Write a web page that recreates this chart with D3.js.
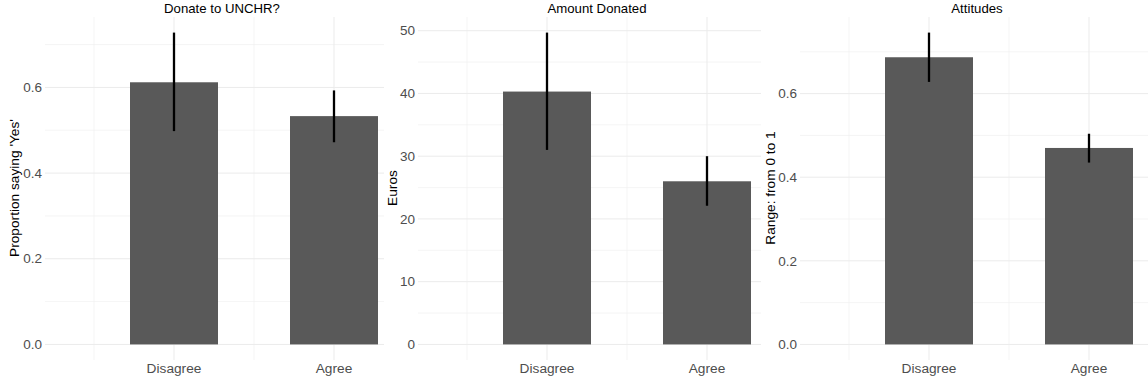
<html>
<head>
<script src="https://cdn.jsdelivr.net/npm/d3@7"></script>
<style>
  body { margin: 0; background: white; }
  text { font-family: "Liberation Sans", Arial, sans-serif; }
</style>
</head>
<body>
<svg width="1148" height="383"></svg>
<script>
// data
const categories = ["Disagree", "Agree"]

const panelTitles = ["Donate to UNCHR?", "Amount Donated", "Attitudes"]
const yTitles = ["Proportion saying 'Yes'", "Euros", "Range: from 0 to 1"]

const donateMean = [0.612, 0.533]
const donateLow = [0.498, 0.472]
const donateHigh = [0.728, 0.593]

const amountMean = [40.3, 26.0]
const amountLow = [31.0, 22.1]
const amountHigh = [49.7, 30.0]

const attitudeMean = [0.687, 0.470]
const attitudeLow = [0.628, 0.435]
const attitudeHigh = [0.746, 0.504]

const donateTicks = [0, 0.2, 0.4, 0.6]
const amountTicks = [0, 10, 20, 30, 40, 50]
const attitudeTicks = [0, 0.2, 0.4, 0.6]

const panels = [
  {mean: donateMean, low: donateLow, high: donateHigh, ticks: donateTicks, fmt: d3.format(".1f")},
  {mean: amountMean, low: amountLow, high: amountHigh, ticks: amountTicks, fmt: d3.format("d")},
  {mean: attitudeMean, low: attitudeLow, high: attitudeHigh, ticks: attitudeTicks, fmt: d3.format(".1f")}
]

// layout of the three glued plots
const slotLeft = [0, 380, 760]
const slotRight = [384, 761, 1148]
const panelLeft = [45, 418, 800]
const yTitleX = [19, 397, 775]
const titleX = [222, 597, 977]
const panelTop = 17, panelBottom = 360

const svg = d3.select("svg")
const defs = svg.append("defs")

panels.forEach(function(p, i) {
  defs.append("clipPath").attr("id", "clip" + i)
    .append("rect").attr("x", slotLeft[i]).attr("y", 0)
    .attr("width", slotRight[i] - slotLeft[i]).attr("height", 383)

  const g = svg.append("g").attr("clip-path", `url(#clip${i})`)
  const L = panelLeft[i]

  const ymax = d3.max(p.high)
  const y = d3.scaleLinear().domain([-0.05 * ymax, 1.05 * ymax]).range([panelBottom, panelTop])
  const x = d3.scalePoint().domain(categories).range([L + 129, L + 289])
  const step = x.step()
  const barW = step * 0.55

  // minor grid
  const minorY = p.ticks.map(t => t + (p.ticks[1] - p.ticks[0]) / 2)
  g.selectAll(".minor-y").data(minorY).join("line")
    .attr("x1", L).attr("x2", slotRight[i])
    .attr("y1", d => y(d)).attr("y2", d => y(d))
    .attr("stroke", "#f0f0f0").attr("stroke-width", 0.7)
  g.selectAll(".minor-x").data([-0.5, 0.5, 1.5]).join("line")
    .attr("x1", d => x(categories[0]) + d * step).attr("x2", d => x(categories[0]) + d * step)
    .attr("y1", panelTop).attr("y2", panelBottom)
    .attr("stroke", "#f0f0f0").attr("stroke-width", 0.7)

  // major grid
  g.selectAll(".major-y").data(p.ticks).join("line")
    .attr("x1", L).attr("x2", slotRight[i])
    .attr("y1", d => y(d)).attr("y2", d => y(d))
    .attr("stroke", "#ebebeb").attr("stroke-width", 1)
  g.selectAll(".major-x").data(categories).join("line")
    .attr("x1", d => x(d)).attr("x2", d => x(d))
    .attr("y1", panelTop).attr("y2", panelBottom)
    .attr("stroke", "#ebebeb").attr("stroke-width", 1)

  // bars
  g.selectAll(".bar").data(categories).join("rect")
    .attr("x", d => x(d) - barW / 2).attr("width", barW)
    .attr("y", (d, j) => y(p.mean[j])).attr("height", (d, j) => y(0) - y(p.mean[j]))
    .attr("fill", "#595959")

  // error bars
  g.selectAll(".err").data(categories).join("line")
    .attr("x1", d => x(d)).attr("x2", d => x(d))
    .attr("y1", (d, j) => y(p.low[j])).attr("y2", (d, j) => y(p.high[j]))
    .attr("stroke", "black").attr("stroke-width", 2.3)

  // y tick labels
  g.selectAll(".ytick").data(p.ticks).join("text")
    .attr("x", L - 3).attr("y", d => y(d)).attr("dy", "0.35em")
    .attr("text-anchor", "end").attr("font-size", 13.5).attr("fill", "#4d4d4d")
    .text(p.fmt)

  // x tick labels
  g.selectAll(".xtick").data(categories).join("text")
    .attr("x", d => x(d)).attr("y", 373)
    .attr("text-anchor", "middle").attr("font-size", 13.7).attr("fill", "#4d4d4d")
    .text(d => d)

  // y axis title
  g.append("text")
    .attr("transform", `translate(${yTitleX[i]},188) rotate(-90)`)
    .attr("text-anchor", "middle").attr("font-size", 13.7).attr("fill", "black")
    .text(yTitles[i])

  // plot title
  g.append("text")
    .attr("x", titleX[i]).attr("y", 12.5)
    .attr("text-anchor", "middle").attr("font-size", 13.2).attr("fill", "black")
    .text(panelTitles[i])
})
</script>
</body>
</html>
